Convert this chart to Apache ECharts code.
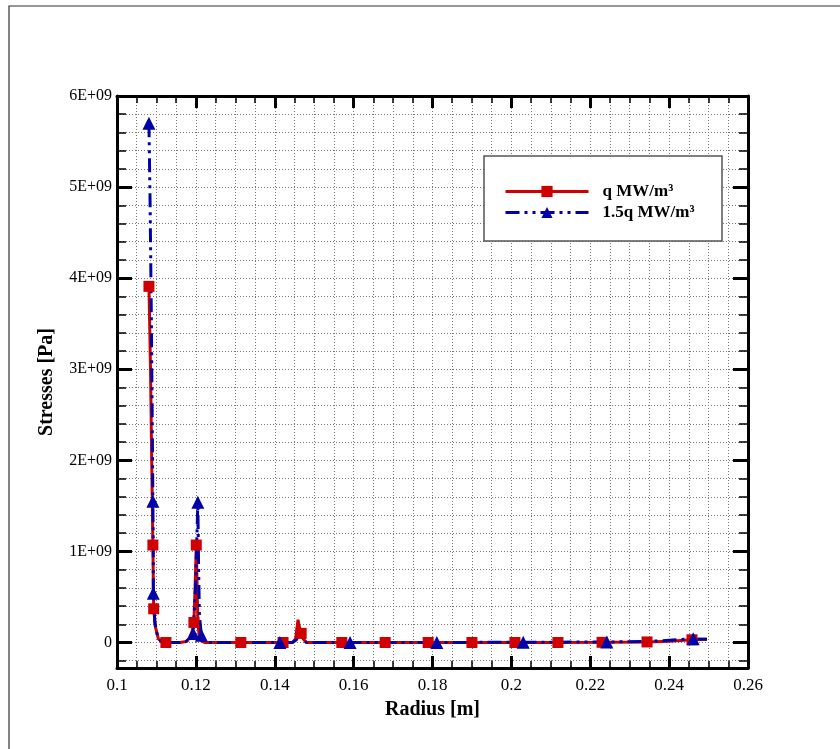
<!DOCTYPE html>
<html>
<head>
<meta charset="utf-8">
<script src="https://cdn.jsdelivr.net/npm/echarts@6/dist/echarts.min.js"></script>
<style>
  html, body { margin: 0; padding: 0; background: #fff; }
  #chart { width: 840px; height: 749px; }
</style>
</head>
<body>
<div id="chart"></div>
<script>
// q MW/m³ (red squares)
const radiusQ = [0.1081, 0.1085, 0.1088, 0.1091, 0.1092, 0.1093, 0.1097, 0.1105, 0.1115, 0.1124,
  0.1160, 0.1175, 0.1185, 0.1191, 0.1195, 0.1198, 0.1201, 0.1203, 0.1205, 0.1208,
  0.1213, 0.1222, 0.1314, 0.1421, 0.1445, 0.1453, 0.1459, 0.1463, 0.1467, 0.1472,
  0.1480, 0.1570, 0.1680, 0.1789, 0.1900, 0.2009, 0.2118, 0.2230, 0.2344, 0.2400,
  0.2458, 0.2496]
const stressQ = [3.91e9, 3.0e9, 2.0e9, 1.07e9, 0.7e9, 0.37e9, 0.18e9, 0.04e9, 0.003e9, 0,
  0, 0.01e9, 0.05e9, 0.13e9, 0.22e9, 0.6e9, 1.07e9, 0.65e9, 0.25e9, 0.08e9,
  0.02e9, 0, 0, 0, 0, 0.04e9, 0.25e9, 0.16e9, 0.1e9, 0.04e9,
  0, 0, 0, 0, 0, 0, 0, 0.002e9, 0.006e9, 0.015e9,
  0.03e9, 0.035e9]
const markQ = [0, 3, 5, 9, 14, 16, 22, 23, 28, 31, 32, 33, 34, 35, 36, 37, 38, 40]

// 1.5q MW/m³ (blue triangles)
const radiusB = [0.1081, 0.1084, 0.1087, 0.1089, 0.1091, 0.1092, 0.1092, 0.1096, 0.1103, 0.1112,
  0.1125, 0.1160, 0.1175, 0.1185, 0.1193, 0.1199, 0.1205, 0.1207, 0.1209, 0.1214,
  0.1220, 0.1228, 0.1413, 0.1445, 0.1455, 0.1462, 0.1467, 0.1472, 0.1480, 0.1591,
  0.1811, 0.2030, 0.2242, 0.2350, 0.2461, 0.2496]
const stressB = [5.70e9, 4.8e9, 3.6e9, 2.6e9, 1.55e9, 1.0e9, 0.54e9, 0.22e9, 0.06e9, 0.01e9,
  0, 0, 0.01e9, 0.04e9, 0.1e9, 0.6e9, 1.54e9, 0.8e9, 0.3e9, 0.08e9,
  0.02e9, 0, 0, 0, 0.03e9, 0.1e9, 0.11e9, 0.05e9, 0, 0,
  0, 0.003e9, 0.005e9, 0.012e9, 0.04e9, 0.035e9]
const markB = [0, 4, 6, 14, 16, 19, 22, 29, 30, 31, 32, 34]

// tick values on the stress axis
const yMajorTicks = [0, 1e9, 2e9, 3e9, 4e9, 5e9, 6e9]
const yMinorTicks = [-2e8, 0, 2e8, 4e8, 6e8, 8e8, 1e9, 1.2e9, 1.4e9, 1.6e9, 1.8e9, 2e9,
  2.2e9, 2.4e9, 2.6e9, 2.8e9, 3e9, 3.2e9, 3.4e9, 3.6e9, 3.8e9, 4e9, 4.2e9, 4.4e9,
  4.6e9, 4.8e9, 5e9, 5.2e9, 5.4e9, 5.6e9, 5.8e9, 6e9]

const serif = 'Liberation Serif'
const yMin = -2.8e8
const yMax = 6e9

function buildData(xs, ys, marks) {
  // 只在标记点上画符号
  return xs.map((x, i) => marks.indexOf(i) >= 0 ? [x, ys[i]] : { value: [x, ys[i]], symbol: 'none' })
}

const dotted = { color: '#777', type: [1, 2], width: 1 }

function xAxisOf(pos) {
  const bottom = pos === 'bottom'
  return {
    type: 'value',
    position: pos,
    min: 0.1,
    max: 0.26,
    interval: 0.02,
    axisLine: { show: true, onZero: false, lineStyle: { color: '#000', width: 3 } },
    axisTick: { show: true, inside: true, length: 12, lineStyle: { color: '#000', width: 3 } },
    minorTick: { show: true, splitNumber: 4, length: 7, lineStyle: { color: '#000', width: 1.5 } },
    splitLine: { show: bottom, lineStyle: dotted },
    minorSplitLine: { show: bottom, lineStyle: dotted },
    axisLabel: { show: bottom, margin: 9, fontFamily: serif, fontSize: 17, color: '#000' },
    name: bottom ? 'Radius [m]' : '',
    nameLocation: 'middle',
    nameGap: 32,
    nameTextStyle: { fontFamily: serif, fontSize: 20, fontWeight: 'bold', color: '#000' }
  }
}

function yAxisOf(pos, major) {
  const main = pos === 'left' && !major
  return {
    type: 'value',
    position: pos,
    min: yMin,
    max: yMax,
    axisLine: { show: !major, onZero: false, lineStyle: { color: '#000', width: 3 } },
    axisTick: {
      show: true,
      inside: true,
      customValues: major ? yMajorTicks : yMinorTicks,
      length: major ? 15 : 9,
      lineStyle: { color: '#000', width: major ? 3 : 1.5 }
    },
    splitLine: { show: main, lineStyle: dotted },
    axisLabel: {
      show: main,
      customValues: yMajorTicks,
      margin: 5,
      fontFamily: serif,
      fontSize: 16,
      color: '#000',
      formatter: v => (v === 0 ? '0' : Math.round(v / 1e9) + 'E+09')
    },
    name: main ? 'Stresses [Pa]' : '',
    nameLocation: 'middle',
    nameGap: 60,
    nameTextStyle: { fontFamily: serif, fontSize: 20, fontWeight: 'bold', color: '#000' }
  }
}

const chart = echarts.init(document.getElementById('chart'))
chart.setOption({
  animation: false,
  backgroundColor: '#fff',
  grid: { left: 117, right: 92, top: 96, bottom: 81, containLabel: false },
  graphic: [
    {
      type: 'rect',
      silent: true,
      shape: { x: 9, y: 6, width: 900, height: 800 },
      style: { fill: 'none', stroke: '#333', lineWidth: 1.2 }
    },
    {
      type: 'rect',
      silent: true,
      z: 3,
      shape: { x: 484, y: 156, width: 238, height: 85 },
      style: { fill: '#fff', stroke: '#555', lineWidth: 1.5 }
    }
  ],
  legend: {
    left: 504,
    top: 183,
    orient: 'vertical',
    padding: 0,
    itemWidth: 83,
    itemHeight: 14,
    itemGap: 4,
    lineStyle: { width: 3 },
    textStyle: {
      fontFamily: serif,
      fontSize: 17,
      lineHeight: 14,
      fontWeight: 'bold',
      color: '#000',
      padding: [0, 0, 0, 9]
    },
    data: ['q MW/m³', '1.5q MW/m³']
  },
  xAxis: [xAxisOf('bottom'), xAxisOf('top')],
  yAxis: [yAxisOf('left', false), yAxisOf('left', true), yAxisOf('right', false), yAxisOf('right', true)],
  series: [
    {
      name: 'q MW/m³',
      type: 'line',
      xAxisIndex: 0,
      yAxisIndex: 0,
      symbol: 'rect',
      symbolSize: 11,
      itemStyle: { color: '#d00000' },
      lineStyle: { color: '#d00000', width: 3 },
      data: buildData(radiusQ, stressQ, markQ)
    },
    {
      name: '1.5q MW/m³',
      type: 'line',
      xAxisIndex: 0,
      yAxisIndex: 0,
      symbol: 'triangle',
      symbolSize: 13,
      itemStyle: { color: '#0000a8' },
      lineStyle: { color: '#0000a8', width: 3, type: [14, 5, 3, 5, 3, 5] },
      data: buildData(radiusB, stressB, markB)
    }
  ]
})
</script>
</body>
</html>
